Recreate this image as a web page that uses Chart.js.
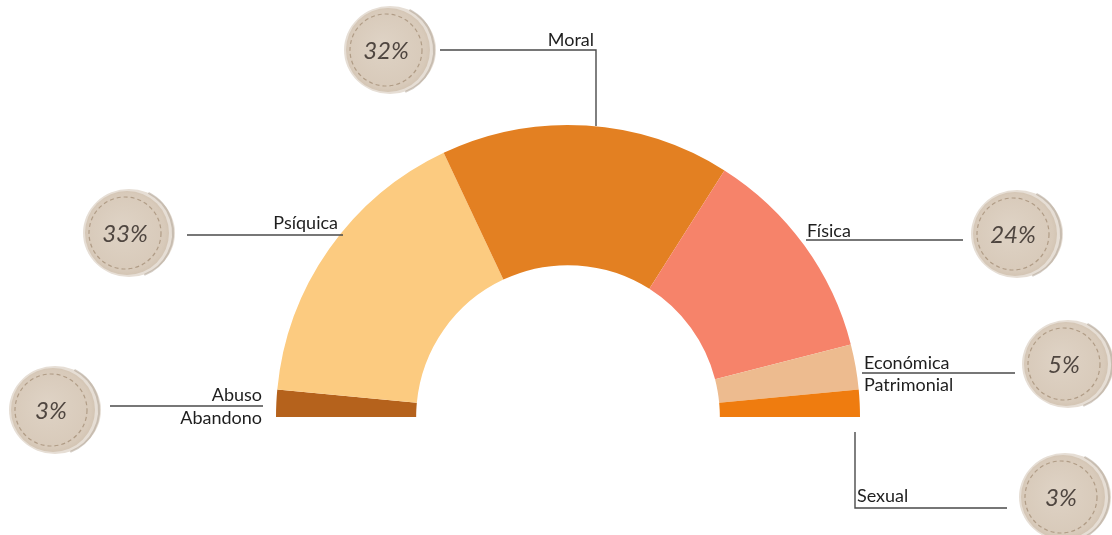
<!DOCTYPE html>
<html lang="es">
<head>
<meta charset="UTF-8">
<title>Tipos de violencia</title>
<script src="https://cdn.jsdelivr.net/npm/chart.js"></script>
<style>
  html, body { margin: 0; padding: 0; background: #fff; }
  #wrap { width: 1112px; height: 535px; position: relative; }
</style>
</head>
<body>
<div id="wrap"><canvas id="violenceChart"></canvas></div>
<script>
// data, left to right along the half ring
const categories = [['Abuso', 'Abandono'], ['Psíquica'], ['Moral'], ['Física'], ['Económica', 'Patrimonial'], ['Sexual']];
const percents = [3, 33, 32, 24, 5, 3];
const sliceColors = ['#B5621C', '#FCCB80', '#E38022', '#F6836A', '#EDBB8F', '#EF7C0F'];

// callout layout: badge centre, leader line path, label baselines
const callouts = [
  { badge: [53, 410], path: [[110, 406], [263, 406]], x: 262, ys: [401, 424], align: 'right' },
  { badge: [127, 233], path: [[187, 235], [343, 235]], x: 338, ys: [229], align: 'right' },
  { badge: [388, 50], path: [[440, 50], [596, 50], [596, 126]], x: 594, ys: [46], align: 'right' },
  { badge: [1015, 234], path: [[806, 240], [963, 240]], x: 807, ys: [237], align: 'left' },
  { badge: [1066, 364], path: [[862, 373], [1015, 373]], x: 864, ys: [369, 391], align: 'left' },
  { badge: [1063, 497], path: [[855, 432], [855, 508], [1007, 508]], x: 857, ys: [502], align: 'left' }
];

function drawBadge(ctx, cx, cy, r) {
  ctx.save();
  // soft brush ring
  ctx.beginPath();
  ctx.ellipse(cx + 2, cy, r + 1, r - 1, 0, 0, Math.PI * 2);
  ctx.fillStyle = '#E6DED5';
  ctx.fill();
  const g = ctx.createRadialGradient(cx - 6, cy - 6, 4, cx, cy, r);
  g.addColorStop(0, '#DED2C4');
  g.addColorStop(0.85, '#D8CABA');
  g.addColorStop(1, '#D0C1AF');
  ctx.beginPath();
  ctx.arc(cx, cy, r - 3, 0, Math.PI * 2);
  ctx.fillStyle = g;
  ctx.fill();
  // brush tail on right
  ctx.beginPath();
  ctx.arc(cx + 1, cy, r, -1.1, 1.2);
  ctx.strokeStyle = 'rgba(170,155,140,0.5)';
  ctx.lineWidth = 2;
  ctx.stroke();
  // dashed inner ring
  ctx.beginPath();
  ctx.arc(cx - 2, cy, r - 9, 0, Math.PI * 2);
  ctx.setLineDash([4, 3]);
  ctx.strokeStyle = '#B09C86';
  ctx.lineWidth = 1.2;
  ctx.stroke();
  ctx.restore();
}

const calloutPlugin = {
  id: 'callouts',
  afterDraw(chart) {
    const ctx = chart.ctx;
    const vals = chart.data.datasets[0].data;
    callouts.forEach((c, i) => {
      // leader line
      ctx.save();
      ctx.beginPath();
      c.path.forEach((p, k) => k ? ctx.lineTo(p[0], p[1]) : ctx.moveTo(p[0], p[1]));
      ctx.strokeStyle = '#4a4a4a';
      ctx.lineWidth = 1.4;
      ctx.stroke();
      // label
      ctx.fillStyle = '#1e1e1e';
      ctx.font = '18px Lato, "Open Sans", sans-serif';
      ctx.textAlign = c.align;
      ctx.textBaseline = 'alphabetic';
      chart.data.labels[i].forEach((t, k) => ctx.fillText(t, c.x, c.ys[k]));
      ctx.restore();
      // percent badge
      drawBadge(ctx, c.badge[0], c.badge[1], 45);
      ctx.save();
      ctx.fillStyle = '#4F4640';
      ctx.font = 'italic 24px Lato, "Open Sans", sans-serif';
      ctx.textAlign = 'center';
      ctx.textBaseline = 'middle';
      ctx.fillText(vals[i] + '%', c.badge[0] - 2, c.badge[1] + 1);
      ctx.restore();
    });
  }
};

new Chart(document.getElementById('violenceChart'), {
  type: 'doughnut',
  data: {
    labels: categories,
    datasets: [{
      data: percents,
      backgroundColor: sliceColors,
      borderWidth: 0
    }]
  },
  options: {
    responsive: true,
    maintainAspectRatio: false,
    animation: false,
    rotation: -90,
    circumference: 180,
    cutout: '52%',
    layout: { padding: { left: 276, right: 252, top: 125, bottom: 118 } },
    plugins: {
      legend: { display: false },
      tooltip: { enabled: false }
    }
  },
  plugins: [calloutPlugin]
});
</script>
</body>
</html>
